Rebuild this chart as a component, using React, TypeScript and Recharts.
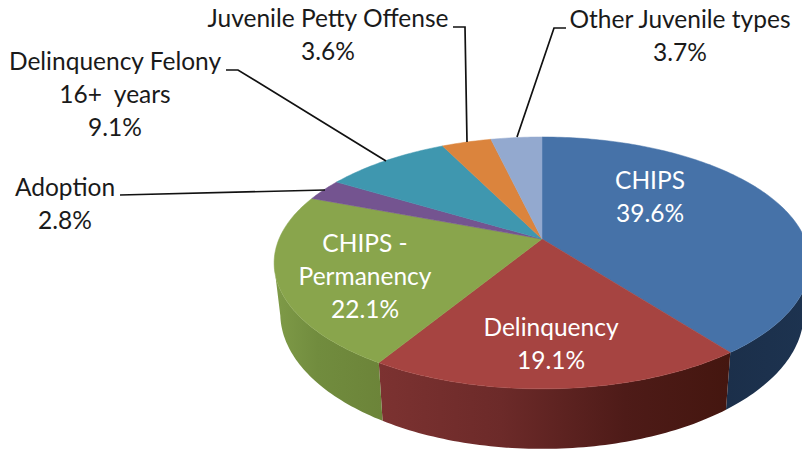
import { Pie, PieChart } from "recharts";

const categories = [
  "CHIPS",
  "Delinquency",
  "CHIPS -\nPermanency",
  "Adoption",
  "Delinquency Felony\n16+  years",
  "Juvenile Petty Offense",
  "Other Juvenile types",
];
const shares = [39.6, 19.1, 22.1, 2.8, 9.1, 3.6, 3.7];
const colors = ["#4672A8", "#A64441", "#89A54C", "#745490", "#3F97AF", "#DB843D", "#93A9CF"];

const chartData = categories.map((name, i) => ({ name, value: shares[i], fill: colors[i] }));

// x offset, colour: shading of the pie's rim, per slice
const wallStops: Record<string, [number, string][]> = {
  CHIPS: [
    [0, "#1B2F4A"],
    [1, "#1D3350"],
  ],
  Delinquency: [
    [0, "#7C3231"],
    [0.35, "#6C2A29"],
    [0.7, "#4E1B18"],
    [1, "#44160F"],
  ],
  "CHIPS -\nPermanency": [
    [0, "#7F9B48"],
    [0.4, "#718C3E"],
    [1, "#6C8439"],
  ],
};

// center x, first baseline, colour, leader polyline
const labelLayout = [
  { x: 650, y: 189, color: "#fff", leader: "" },
  { x: 551, y: 336, color: "#fff", leader: "" },
  { x: 365, y: 252, color: "#fff", leader: "" },
  { x: 65, y: 196, color: "#1a1a1a", leader: "120,195 325,190" },
  { x: 115, y: 70, color: "#1a1a1a", leader: "226,70 238,70 386,161" },
  { x: 328, y: 27, color: "#1a1a1a", leader: "453,27 465,27 467,142" },
  { x: 680, y: 28, color: "#1a1a1a", leader: "566,28 554,28 517,137" },
];

const WIDTH = 802;
const HEIGHT = 452;
const CX = 542;
const CY = 239;
const RADIUS = 263;
const SQUASH = 121.4 / 263;
const TILT = 0.19; // perspective strength
const DEPTH = 48.6;
const LOWER_RING = 0.977; // bottom edge of the rim is a little narrower

function project(cx: number, cy: number, r: number, deg: number, drop = 0) {
  const a = (deg * Math.PI) / 180;
  const X = Math.cos(a);
  const Y = -Math.sin(a);
  const w = 1 - TILT * Y;
  const narrow = drop ? LOWER_RING : 1;
  return { x: cx + (r * X * narrow) / w, y: cy + (r * SQUASH * Y + drop) / w, Y };
}

function angleSteps(start: number, end: number) {
  const out: number[] = [];
  const n = Math.max(2, Math.ceil(Math.abs(end - start)));
  for (let i = 0; i <= n; i++) out.push(start + ((end - start) * i) / n);
  return out;
}

function PerspectiveSlice(props: any) {
  const { cx, cy, outerRadius, startAngle, endAngle, fill, name } = props;
  const steps = angleSteps(startAngle, endAngle);
  const top = steps.map((d) => project(cx, cy, outerRadius, d));
  const d = `M${cx},${cy} ` + top.map((p) => `L${p.x},${p.y}`).join(" ") + " Z";

  const front = steps.filter((s) => project(cx, cy, outerRadius, s).Y >= TILT);
  const stops = wallStops[name];
  let wall = null;
  if (front.length > 1 && stops) {
    const upper = front.map((s) => project(cx, cy, outerRadius, s));
    const lower = front.map((s) => project(cx, cy, outerRadius, s, DEPTH)).reverse();
    const pts = [...upper, ...lower];
    const xs = pts.map((p) => p.x);
    const id = `wall${categories.indexOf(name)}`;
    wall = (
      <g>
        <defs>
          <linearGradient id={id} gradientUnits="userSpaceOnUse" x1={Math.min(...xs)} x2={Math.max(...xs)} y1="0" y2="0">
            {stops.map(([o, c]) => (
              <stop key={o} offset={o} stopColor={c} />
            ))}
          </linearGradient>
        </defs>
        <path d={"M" + pts.map((p) => `${p.x},${p.y}`).join(" L") + " Z"} fill={`url(#${id})`} />
      </g>
    );
  }
  return (
    <g>
      {wall}
      <path d={d} fill={fill} stroke={fill} strokeWidth={0.5} />
    </g>
  );
}

function SliceLabel(props: any) {
  const { index, name, value } = props;
  const spot = labelLayout[index];
  const lines = [...String(name).split("\n"), `${value.toFixed(1)}%`];
  return (
    <g>
      {spot.leader && <polyline points={spot.leader} fill="none" stroke="#111" strokeWidth={1.7} />}
      <text
        textAnchor="middle"
        fill={spot.color}
        fontFamily="Lato, 'Open Sans', sans-serif"
        fontSize={24.5}
        style={{ whiteSpace: "pre" }}
      >
        {lines.map((line, i) => (
          <tspan key={i} x={spot.x} y={spot.y + i * 33}>
            {line}
          </tspan>
        ))}
      </text>
    </g>
  );
}

export default function App() {
  return (
    <div style={{ position: "absolute", left: 0, top: 0, width: WIDTH, height: HEIGHT, overflow: "hidden", background: "#fff" }}>
      <PieChart width={WIDTH} height={HEIGHT} margin={{ top: 0, right: 0, bottom: 0, left: 0 }}>
        <Pie
          data={chartData}
          dataKey="value"
          nameKey="name"
          cx={CX}
          cy={CY}
          innerRadius={0}
          outerRadius={RADIUS}
          startAngle={90}
          endAngle={-270}
          stroke="none"
          shape={PerspectiveSlice}
          label={SliceLabel}
          labelLine={false}
          isAnimationActive={false}
        />
      </PieChart>
    </div>
  );
}
